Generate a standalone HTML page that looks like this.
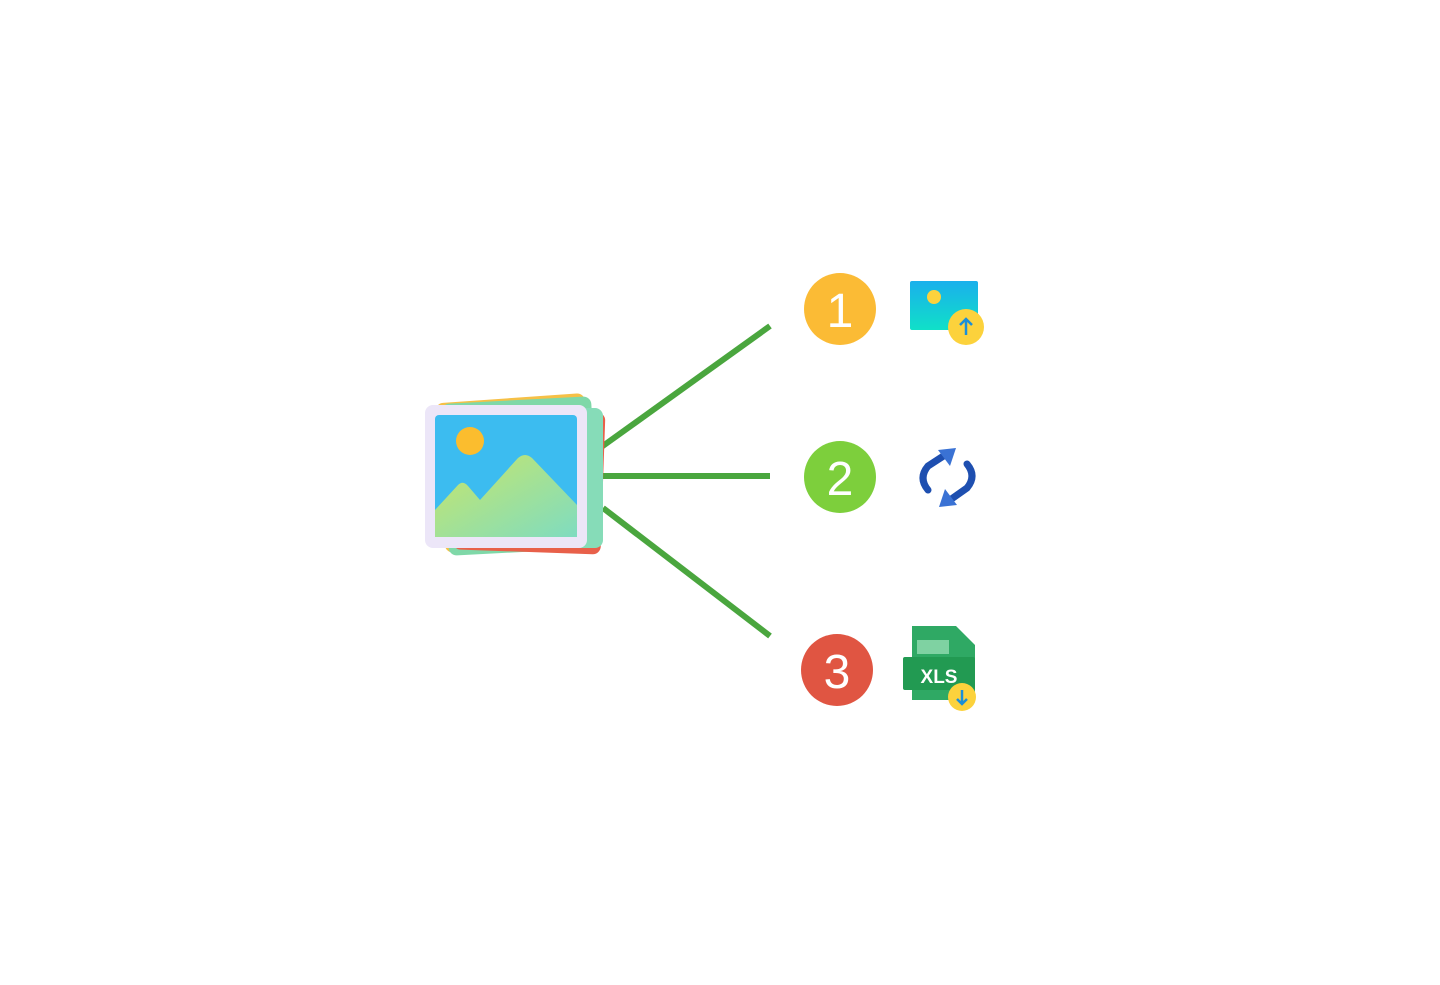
<!DOCTYPE html>
<html><head><style>html,body{margin:0;padding:0;background:#fff;width:1440px;height:985px;overflow:hidden}</style></head>
<body>
<svg width="1440" height="985" viewBox="0 0 1440 985" xmlns="http://www.w3.org/2000/svg">
<defs>
<linearGradient id="m" x1="0" y1="0" x2="1" y2="1"><stop offset="0" stop-color="#c8e66a"/><stop offset="1" stop-color="#7fdcc0"/></linearGradient>
<linearGradient id="t" x1="0" y1="0" x2="0" y2="1"><stop offset="0" stop-color="#1ab0ec"/><stop offset="1" stop-color="#10e0c8"/></linearGradient>
</defs>
<g stroke="#4aa63e" stroke-width="6" stroke-linecap="butt">
<line x1="600" y1="448" x2="770" y2="326"/>
<line x1="598" y1="476" x2="770" y2="476"/>
<line x1="603" y1="508" x2="770" y2="636"/>
</g>
<!-- main picture stack -->
<rect x="440" y="398" width="150" height="150" rx="8" fill="#f6c046" transform="rotate(-4 515 473)"/>
<rect x="445" y="400" width="150" height="152" rx="8" fill="#7fd8a8" transform="rotate(-3 520 476)"/>
<rect x="455" y="410" width="148" height="142" rx="8" fill="#e8604a" transform="rotate(2 529 481)"/>
<rect x="455" y="408" width="148" height="140" rx="8" fill="#86dcb8"/>
<rect x="425" y="405" width="162" height="143" rx="8" fill="#ece6f8"/>
<rect x="435" y="415" width="142" height="122" rx="4" fill="#3cbcf0"/>
<circle cx="470" cy="441" r="14" fill="#fbbd2e"/>
<path d="M435 510 L458 485 Q463 480 468 486 L480 500 L518 458 Q525 452 532 458 L577 505 L577 537 L435 537 Z" fill="url(#m)"/>
<!-- circles -->
<circle cx="840" cy="309" r="36" fill="#fbbb35"/>
<text x="840" y="327" font-family="Liberation Sans, sans-serif" font-size="48" fill="#fff" text-anchor="middle">1</text>
<circle cx="840" cy="477" r="36" fill="#7dcf3c"/>
<text x="840" y="495" font-family="Liberation Sans, sans-serif" font-size="48" fill="#fff" text-anchor="middle">2</text>
<circle cx="837" cy="670" r="36" fill="#e05542"/>
<text x="837" y="688" font-family="Liberation Sans, sans-serif" font-size="48" fill="#fff" text-anchor="middle">3</text>
<!-- icon 1 -->
<rect x="910" y="281" width="68" height="49" rx="2" fill="url(#t)"/>
<circle cx="934" cy="297" r="7" fill="#fcd23c"/>
<circle cx="966" cy="327" r="18" fill="#fcd23c"/>
<path d="M966 335 V319 M960 325 L966 319 L972 325" stroke="#1a8fd8" stroke-width="2.5" fill="none"/>
<!-- icon 2 -->
<g fill="none" stroke="#1e4fb0" stroke-width="7" stroke-linecap="round">
<path d="M928 490 Q918 478 928 466 L945 455"/>
<path d="M967 464 Q977 476 967 488 L950 500"/>
</g>
<path d="M938 450 L956 448 L950 466 Z" fill="#3a72d4"/>
<path d="M957 505 L939 507 L945 489 Z" fill="#3a72d4"/>
<!-- icon 3 -->
<path d="M912 626 H956 L975 645 V700 H912 Z" fill="#2fa964"/>
<rect x="903" y="657" width="72" height="33" rx="2" fill="#229a52"/>
<rect x="917" y="640" width="32" height="14" fill="#7fd2a2"/>
<text x="939" y="683" font-family="Liberation Sans, sans-serif" font-size="19" font-weight="bold" fill="#fff" text-anchor="middle">XLS</text>
<circle cx="962" cy="697" r="14" fill="#fcd23c"/>
<path d="M962 690 V704 M957 699 L962 704 L967 699" stroke="#1a8fd8" stroke-width="2.5" fill="none"/>
</svg>
</body></html>
